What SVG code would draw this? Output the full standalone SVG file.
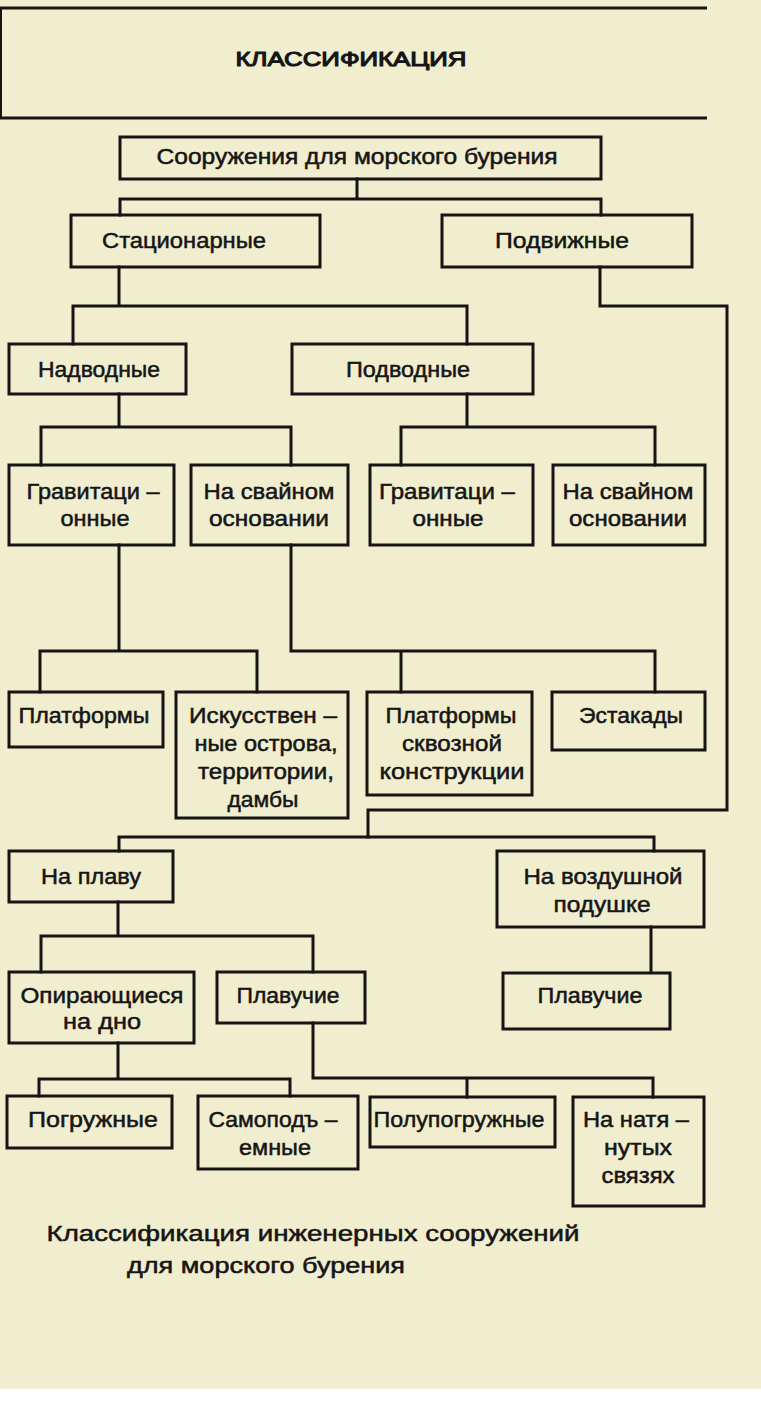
<svg xmlns="http://www.w3.org/2000/svg" width="761" height="1404" viewBox="0 0 761 1404">
<style>
.bg{fill:#f1edcf}
.box{fill:none;stroke:#151515;stroke-width:3}
.ln{fill:none;stroke:#151515;stroke-width:3;stroke-linejoin:miter;stroke-linecap:square}
.rule{stroke:#151515;stroke-width:3}
text{font-family:"Liberation Sans","DejaVu Sans",sans-serif;font-size:22px;fill:#151515;stroke:#151515;stroke-width:0.5;text-anchor:middle}
.title{font-size:21px;stroke-width:1.1}
</style>
<rect class="bg" x="0" y="0" width="761" height="1404"/>
<rect x="0" y="1389" width="761" height="15" fill="#ffffff"/>
<g id="header">
<line class="rule" x1="0" y1="8" x2="707" y2="8"/>
<line class="rule" x1="0" y1="118" x2="707" y2="118"/>
<line x1="1" y1="8" x2="1" y2="118" stroke="#151515" stroke-width="2"/>
<text class="title" x="351" y="66" textLength="231" lengthAdjust="spacingAndGlyphs">КЛАССИФИКАЦИЯ</text>
</g>
<g id="connectors">
<path class="ln" d="M357,179 V199 M120,215 V199 H601 V215"/>
<path class="ln" d="M119,267 V306 M73,344 V306 H467 V344"/>
<path class="ln" d="M600,267 V306 H727 V810 H368 V837"/>
<path class="ln" d="M119,851 V837 H654 V851"/>
<path class="ln" d="M119,394 V427 M41,465 V427 H291 V465"/>
<path class="ln" d="M467,394 V427 M401,465 V427 H655 V465"/>
<path class="ln" d="M119,545 V651 M40,692 V651 H257 V692"/>
<path class="ln" d="M291,545 V651 H655 V692 M401,651 V692"/>
<path class="ln" d="M118,902 V936 M41,972 V936 H313 V972"/>
<path class="ln" d="M651,927 V972"/>
<path class="ln" d="M118,1043 V1079 M39,1096 V1079 H290 V1096"/>
<path class="ln" d="M313,1023 V1078 H653 V1097 M467,1078 V1097"/>
</g>
<g id="root"><rect class="box" x="120" y="137" width="481" height="42"/><text x="357" y="164" textLength="401" lengthAdjust="spacingAndGlyphs">Сооружения для морского бурения</text></g>
<g id="stationary"><rect class="box" x="71" y="215" width="249" height="52"/><text x="184" y="248" textLength="164" lengthAdjust="spacingAndGlyphs">Стационарные</text></g>
<g id="mobile"><rect class="box" x="442" y="215" width="250" height="52"/><text x="562" y="248" textLength="134" lengthAdjust="spacingAndGlyphs">Подвижные</text></g>
<g id="abovewater"><rect class="box" x="9" y="344" width="177" height="50"/><text x="99" y="377" textLength="122" lengthAdjust="spacingAndGlyphs">Надводные</text></g>
<g id="underwater"><rect class="box" x="292" y="344" width="241" height="50"/><text x="408" y="377" textLength="124" lengthAdjust="spacingAndGlyphs">Подводные</text></g>
<g id="grav1"><rect class="box" x="9" y="465" width="165" height="80"/><text x="93" y="499" textLength="133" lengthAdjust="spacingAndGlyphs">Гравитаци –</text><text x="95" y="526" textLength="69" lengthAdjust="spacingAndGlyphs">онные</text></g>
<g id="pile1"><rect class="box" x="191" y="465" width="157" height="80"/><text x="269" y="499" textLength="131" lengthAdjust="spacingAndGlyphs">На свайном</text><text x="269" y="526" textLength="120" lengthAdjust="spacingAndGlyphs">основании</text></g>
<g id="grav2"><rect class="box" x="370" y="465" width="163" height="80"/><text x="447" y="499" textLength="136" lengthAdjust="spacingAndGlyphs">Гравитаци –</text><text x="448" y="526" textLength="71" lengthAdjust="spacingAndGlyphs">онные</text></g>
<g id="pile2"><rect class="box" x="553" y="465" width="152" height="80"/><text x="628" y="499" textLength="131" lengthAdjust="spacingAndGlyphs">На свайном</text><text x="628" y="526" textLength="118" lengthAdjust="spacingAndGlyphs">основании</text></g>
<g id="platforms"><rect class="box" x="9" y="692" width="154" height="55"/><text x="84" y="723" textLength="131" lengthAdjust="spacingAndGlyphs">Платформы</text></g>
<g id="islands"><rect class="box" x="176" y="692" width="172" height="126"/><text x="263" y="723" textLength="148" lengthAdjust="spacingAndGlyphs">Искусствен –</text><text x="266" y="751" textLength="143" lengthAdjust="spacingAndGlyphs">ные острова,</text><text x="266" y="779" textLength="136" lengthAdjust="spacingAndGlyphs">территории,</text><text x="263" y="807" textLength="71" lengthAdjust="spacingAndGlyphs">дамбы</text></g>
<g id="openframe"><rect class="box" x="367" y="692" width="165" height="103"/><text x="451" y="723" textLength="131" lengthAdjust="spacingAndGlyphs">Платформы</text><text x="452" y="751" textLength="100" lengthAdjust="spacingAndGlyphs">сквозной</text><text x="452" y="779" textLength="145" lengthAdjust="spacingAndGlyphs">конструкции</text></g>
<g id="trestles"><rect class="box" x="552" y="692" width="153" height="58"/><text x="631" y="723" textLength="104" lengthAdjust="spacingAndGlyphs">Эстакады</text></g>
<g id="afloat"><rect class="box" x="9" y="851" width="164" height="51"/><text x="91" y="884" textLength="100" lengthAdjust="spacingAndGlyphs">На плаву</text></g>
<g id="aircushion"><rect class="box" x="497" y="851" width="207" height="76"/><text x="603" y="884" textLength="159" lengthAdjust="spacingAndGlyphs">На воздушной</text><text x="602" y="912" textLength="97" lengthAdjust="spacingAndGlyphs">подушке</text></g>
<g id="bottomsupported"><rect class="box" x="9" y="972" width="185" height="71"/><text x="102" y="1003" textLength="163" lengthAdjust="spacingAndGlyphs">Опирающиеся</text><text x="102" y="1029" textLength="78" lengthAdjust="spacingAndGlyphs">на дно</text></g>
<g id="floating1"><rect class="box" x="217" y="972" width="148" height="51"/><text x="288" y="1003" textLength="103" lengthAdjust="spacingAndGlyphs">Плавучие</text></g>
<g id="floating2"><rect class="box" x="503" y="973" width="167" height="56"/><text x="590" y="1003" textLength="105" lengthAdjust="spacingAndGlyphs">Плавучие</text></g>
<g id="submersible"><rect class="box" x="7" y="1096" width="165" height="52"/><text x="93" y="1127" textLength="130" lengthAdjust="spacingAndGlyphs">Погружные</text></g>
<g id="jackup"><rect class="box" x="198" y="1096" width="160" height="73"/><text x="273" y="1127" textLength="129" lengthAdjust="spacingAndGlyphs">Самоподъ –</text><text x="275" y="1155" textLength="72" lengthAdjust="spacingAndGlyphs">емные</text></g>
<g id="semisub"><rect class="box" x="370" y="1097" width="185" height="50"/><text x="459" y="1127" textLength="171" lengthAdjust="spacingAndGlyphs">Полупогружные</text></g>
<g id="tensionleg"><rect class="box" x="573" y="1097" width="131" height="109"/><text x="636" y="1127" textLength="106" lengthAdjust="spacingAndGlyphs">На натя –</text><text x="638" y="1155" textLength="68" lengthAdjust="spacingAndGlyphs">нутых</text><text x="638" y="1183" textLength="73" lengthAdjust="spacingAndGlyphs">связях</text></g>
<g id="caption"><text x="313" y="1241" textLength="533" lengthAdjust="spacingAndGlyphs">Классификация инженерных сооружений</text><text x="266" y="1273" textLength="278" lengthAdjust="spacingAndGlyphs">для морского бурения</text></g>
</svg>
